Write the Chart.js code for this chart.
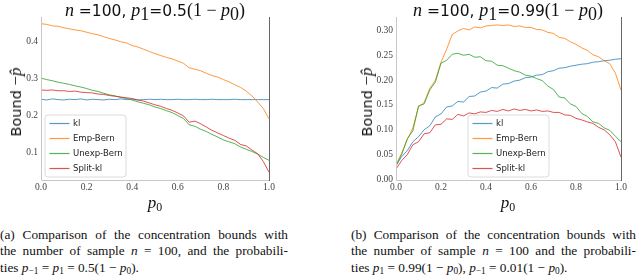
<!DOCTYPE html>
<html><head><meta charset="utf-8">
<script src="https://cdn.jsdelivr.net/npm/chart.js@4/dist/chart.umd.min.js"></script>
<style>
html,body{margin:0;padding:0;background:#fff}
body{width:640px;height:276px;position:relative;overflow:hidden}
canvas{position:absolute;top:0}
.t{position:absolute;white-space:nowrap;transform:translate(-50%,-50%);font-family:'DejaVu Sans',sans-serif;font-size:15.5px;color:#111}
.m{font-family:'Liberation Serif',serif;font-style:italic;font-size:18px}
.r{font-family:'Liberation Serif',serif;font-style:normal;font-size:18px}
sub{font-size:70%;vertical-align:-0.25em;line-height:0}
.yt{position:absolute;white-space:nowrap;transform:translate(-50%,-50%) rotate(-90deg);font-family:'DejaVu Sans',sans-serif;font-size:14.5px;color:#111}
.yt .m,.yt .r{font-size:17px}
.xt{position:absolute;white-space:nowrap;transform:translate(-50%,-50%);font-family:'Liberation Serif',serif;font-style:italic;font-size:17px;color:#111}
.cap{position:absolute;top:227px;font-family:'Liberation Serif',serif;font-size:13.3px;line-height:16.3px;color:#111}
.cap div{white-space:nowrap}
.cap .j{text-align:justify;text-align-last:justify}
.cap i{font-style:italic}
</style>
</head><body>
<canvas id="c1" width="320" height="215" style="left:0"></canvas>
<canvas id="c2" width="320" height="215" style="left:320px"></canvas>

<div class="t" style="left:155px;top:10px"><span class="m">n</span> =100, <span class="m">p</span><sub class="r">1</sub>=0.5<span class="r">(1 − </span><span class="m">p</span><sub class="r">0</sub><span class="r">)</span></div>
<div class="t" style="left:508px;top:10px"><span class="m">n</span> =100, <span class="m">p</span><sub class="r">1</sub>=0.99<span class="r">(1 − </span><span class="m">p</span><sub class="r">0</sub><span class="r">)</span></div>

<div class="yt" style="left:16px;top:102px">Bound <span class="r">−</span><span class="m">p̂</span></div>
<div class="yt" style="left:367px;top:102px">Bound <span class="r">−</span><span class="m">p̂</span></div>

<div class="xt" style="left:155px;top:203px">p<sub style="font-style:normal">0</sub></div>
<div class="xt" style="left:508px;top:203px">p<sub style="font-style:normal">0</sub></div>

<div class="cap" style="left:0;width:288px">
<div class="j">(a) Comparison of the concentration bounds with</div>
<div class="j">the number of sample <i>n</i> = 100, and the probabili-</div>
<div>ties <i>p</i><sub>−1</sub> = <i>p</i><sub>1</sub> = 0.5(1 − <i>p</i><sub>0</sub>).</div>
</div>
<div class="cap" style="left:351px;width:285px">
<div class="j">(b) Comparison of the concentration bounds with</div>
<div class="j">the number of sample <i>n</i> = 100 and the probabili-</div>
<div>ties <i>p</i><sub>1</sub> = 0.99(1 − <i>p</i><sub>0</sub>), <i>p</i><sub>−1</sub> = 0.01(1 − <i>p</i><sub>0</sub>).</div>
</div>

<script>
// x values (p0)
const p0 = [0,0.025,0.05,0.075,0.1,0.125,0.15,0.175,0.2,0.225,0.25,0.275,0.3,0.325,0.35,0.375,0.4,0.425,0.45,0.475,0.5,0.525,0.55,0.575,0.6,0.625,0.65,0.675,0.7,0.725,0.75,0.775,0.8,0.825,0.85,0.875,0.9,0.925,0.95,0.975,1.0];

const seriesNames = ['kl','Emp-Bern','Unexp-Bern','Split-kl'];
const seriesColors = ['rgba(31,119,180,0.75)','rgba(255,127,14,0.8)','rgba(44,160,44,0.8)','rgba(214,39,40,0.8)'];

// (a) p1 = 0.5(1-p0)
const leftKl = [0.243,0.241,0.244,0.242,0.241,0.243,0.242,0.244,0.241,0.243,0.242,0.241,0.243,0.242,0.244,0.242,0.243,0.241,0.242,0.243,0.242,0.243,0.242,0.242,0.243,0.242,0.242,0.243,0.242,0.242,0.243,0.242,0.242,0.242,0.243,0.242,0.242,0.242,0.242,0.242,0.242];
const leftEmp = [0.447,0.445,0.441,0.440,0.436,0.433,0.430,0.428,0.424,0.420,0.417,0.412,0.407,0.403,0.398,0.395,0.388,0.384,0.378,0.372,0.366,0.361,0.356,0.352,0.346,0.340,0.328,0.324,0.320,0.313,0.307,0.303,0.296,0.290,0.282,0.275,0.265,0.252,0.236,0.218,0.190];
const leftUnexp = [0.300,0.296,0.293,0.289,0.286,0.283,0.279,0.276,0.272,0.267,0.264,0.259,0.255,0.252,0.248,0.245,0.241,0.236,0.232,0.228,0.222,0.218,0.212,0.207,0.199,0.191,0.174,0.170,0.162,0.156,0.148,0.141,0.133,0.128,0.123,0.114,0.108,0.102,0.095,0.086,0.078];
const leftSplit = [0.268,0.267,0.268,0.266,0.266,0.264,0.265,0.262,0.261,0.260,0.257,0.256,0.253,0.251,0.249,0.247,0.245,0.241,0.238,0.233,0.228,0.224,0.218,0.213,0.206,0.198,0.181,0.184,0.177,0.168,0.159,0.152,0.145,0.138,0.132,0.121,0.117,0.106,0.096,0.075,0.046];

// (b) p1 = 0.99(1-p0)
const rightKl = [0.028,0.046,0.058,0.076,0.086,0.100,0.108,0.126,0.132,0.146,0.148,0.157,0.156,0.167,0.168,0.176,0.178,0.185,0.184,0.192,0.193,0.198,0.200,0.205,0.206,0.210,0.211,0.217,0.219,0.224,0.225,0.228,0.230,0.232,0.233,0.236,0.237,0.239,0.240,0.242,0.243];
const rightEmp = [0.029,0.053,0.080,0.104,0.146,0.155,0.183,0.200,0.236,0.262,0.292,0.299,0.304,0.301,0.307,0.305,0.309,0.310,0.311,0.310,0.311,0.308,0.309,0.306,0.306,0.302,0.301,0.296,0.294,0.286,0.284,0.277,0.272,0.265,0.260,0.251,0.247,0.239,0.233,0.214,0.180];
const rightUnexp = [0.028,0.050,0.082,0.098,0.148,0.152,0.180,0.196,0.234,0.240,0.252,0.254,0.250,0.252,0.246,0.247,0.239,0.238,0.230,0.229,0.224,0.219,0.216,0.210,0.208,0.203,0.199,0.188,0.181,0.166,0.164,0.152,0.147,0.133,0.127,0.116,0.113,0.104,0.099,0.087,0.076];
const rightSplit = [0.021,0.038,0.050,0.070,0.076,0.092,0.094,0.110,0.111,0.122,0.121,0.131,0.128,0.134,0.132,0.136,0.135,0.139,0.137,0.141,0.138,0.142,0.139,0.141,0.138,0.140,0.137,0.138,0.135,0.135,0.130,0.129,0.123,0.120,0.116,0.113,0.105,0.100,0.090,0.076,0.045];

// tick labels
const xTicks = [0.0,0.2,0.4,0.6,0.8,1.0];
const leftYTicks = [0.1,0.2,0.3,0.4];
const rightYTicks = [0.00,0.05,0.10,0.15,0.20,0.25,0.30];

const framePlugin = {
  id:'frame',
  afterDatasetsDraw(chart){
    const c = chart.ctx, a = chart.chartArea;
    c.save();
    c.lineWidth = 1;
    c.strokeStyle = '#c8c8c8';
    c.beginPath();
    c.moveTo(a.left+0.5, a.top); c.lineTo(a.left+0.5, a.bottom+0.5);
    c.lineTo(a.right, a.bottom+0.5);
    c.stroke();
    c.strokeStyle = '#666';
    c.beginPath();
    c.moveTo(a.right+0.5, a.top); c.lineTo(a.right+0.5, a.bottom+1);
    c.stroke();
    c.restore();
  }
};

const insideLegend = {
  id:'insideLegend',
  afterDraw(chart, args, o){
    const c = chart.ctx;
    const x = o.x, y = o.y, w = 81, h = 62, r = 3;
    c.save();
    c.beginPath();
    c.moveTo(x+r, y); c.lineTo(x+w-r, y); c.arcTo(x+w, y, x+w, y+r, r);
    c.lineTo(x+w, y+h-r); c.arcTo(x+w, y+h, x+w-r, y+h, r);
    c.lineTo(x+r, y+h); c.arcTo(x, y+h, x, y+h-r, r);
    c.lineTo(x, y+r); c.arcTo(x, y, x+r, y, r);
    c.closePath();
    c.fillStyle = 'rgba(255,255,255,0.8)';
    c.fill();
    c.strokeStyle = '#dcdcdc'; c.lineWidth = 1;
    c.stroke();
    c.font = '8.5px "DejaVu Sans"';
    c.textBaseline = 'middle';
    chart.data.datasets.forEach((ds, i) => {
      const cy = Math.round(y + 7.5 + 15*i) + 0.5;
      c.strokeStyle = ds.borderColor; c.lineWidth = 1.2;
      c.beginPath(); c.moveTo(x+4.5, cy); c.lineTo(x+24.5, cy); c.stroke();
      c.fillStyle = '#222';
      c.fillText(ds.label, x+28, cy);
    });
    c.restore();
  }
};

const tickFont = {family:"'Liberation Serif', serif", size:9.5};

function makeChart(id, series, yTicks, yMin, yMax, yDec, axisW, padRight, legX, legY){
  return new Chart(document.getElementById(id), {
    type:'line',
    data:{
      datasets: series.map((s, i) => ({
        label: seriesNames[i],
        data: p0.map((x, j) => ({x: x, y: s[j]})),
        borderColor: seriesColors[i],
        borderWidth: 1,
        pointRadius: 0,
        fill: false,
        tension: 0,
        order: 3 - i
      }))
    },
    options:{
      responsive:false, animation:false, devicePixelRatio:1,
      layout:{padding:{left:0, right:padRight, top:17, bottom:0}},
      plugins:{legend:{display:false}, tooltip:{enabled:false}, insideLegend:{x:legX, y:legY}},
      scales:{
        x:{type:'linear', min:0, max:1,
           grid:{display:false, drawTicks:false}, border:{display:false},
           ticks:{autoSkip:false, maxRotation:0, padding:2, color:'#444', font:tickFont,
                  callback:v => Number(v).toFixed(1)},
           afterBuildTicks:s => { s.ticks = xTicks.map(v => ({value:v})); },
           afterFit:s => { s.height = 35; }},
        y:{type:'linear', min:yMin, max:yMax,
           grid:{display:false, drawTicks:false}, border:{display:false},
           ticks:{autoSkip:false, padding:3, color:'#444', font:tickFont,
                  callback:v => Number(v).toFixed(yDec)},
           afterBuildTicks:s => { s.ticks = yTicks.map(v => ({value:v})); },
           afterFit:s => { s.width = axisW; }}
      }
    },
    plugins:[framePlugin, insideLegend]
  });
}

makeChart('c1', [leftKl, leftEmp, leftUnexp, leftSplit], leftYTicks, 0.025, 0.465, 1, 41, 51, 45, 115);
makeChart('c2', [rightKl, rightEmp, rightUnexp, rightSplit], rightYTicks, -0.001, 0.327, 2, 76, 19, 148, 115);
</script>
</body></html>
